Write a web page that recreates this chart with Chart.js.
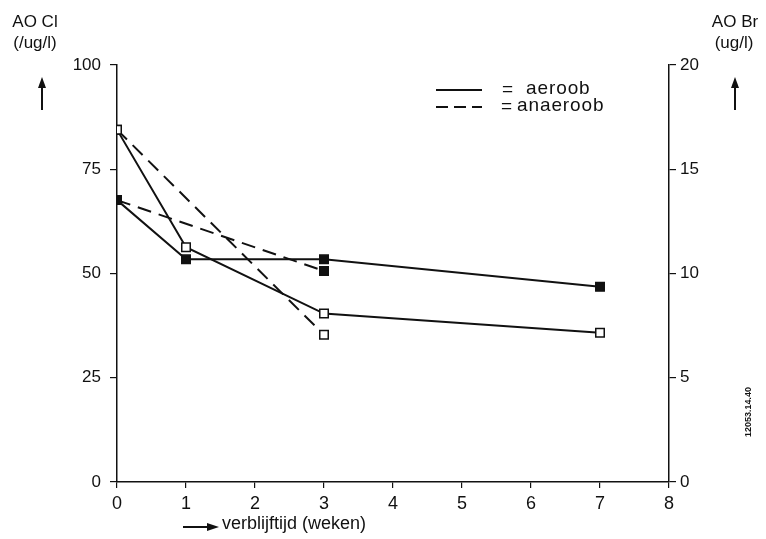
<!DOCTYPE html>
<html>
<head>
<meta charset="utf-8">
<script src="https://cdn.jsdelivr.net/npm/chart.js@4/dist/chart.umd.min.js"></script>
<style>
  html, body { margin: 0; padding: 0; background: #fff; }
  #wrap { width: 766px; height: 539px; position: relative; }
</style>
</head>
<body>
<div id="wrap"><canvas id="aoChart"></canvas></div>
<script>
// weeks of residence time (verblijftijd)
const weeksAeroob = [0, 1, 3, 7];
const weeksAnaeroob = [0, 3];

// AO Cl values (ug/l)
const aeroobOpen = [84.5, 56.3, 40.4, 35.8];
const aeroobFilled = [67.6, 53.4, 53.4, 46.8];
const anaeroobOpen = [84.5, 35.3];
const anaeroobFilled = [67.6, 50.6];

const xTicks = [0, 1, 2, 3, 4, 5, 6, 7, 8];
const leftTicks = [0, 25, 50, 75, 100];
const rightTicks = [0, 5, 10, 15, 20];

const FONT = '"Liberation Sans", Arial, sans-serif';
const INK = '#111';

function pairs(xs, ys) {
    return xs.map((x, i) => ({ x: x, y: ys[i] }));
}

function series(label, xs, ys, dashed, filled) {
    return {
        label: label,
        data: pairs(xs, ys),
        borderColor: INK,
        borderWidth: 2,
        borderDash: dashed ? [14, 8] : [],
        pointStyle: 'rect',
        pointRadius: 6,
        pointBorderWidth: 1.5,
        pointBorderColor: INK,
        pointBackgroundColor: filled ? INK : '#fff',
        tension: 0,
        fill: false,
        order: dashed ? 2 : 1,
    };
}

// Legend, axis titles and arrows drawn on top
const decorations = {
    id: 'decorations',
    afterDraw(chart) {
        const ctx = chart.ctx;
        ctx.save();
        ctx.fillStyle = INK;
        ctx.strokeStyle = INK;

        // legend
        ctx.lineWidth = 2;
        ctx.beginPath();
        ctx.setLineDash([]);
        ctx.moveTo(436, 90);
        ctx.lineTo(482, 90);
        ctx.stroke();
        ctx.beginPath();
        ctx.setLineDash([12, 6]);
        ctx.moveTo(436, 107);
        ctx.lineTo(482, 107);
        ctx.stroke();
        ctx.setLineDash([]);
        ctx.font = '19px ' + FONT;
        ctx.textBaseline = 'middle';
        ctx.textAlign = 'left';
        ctx.fillText('=', 502, 90);
        ctx.fillText('=', 501, 107);
        ctx.letterSpacing = '0.9px';
        ctx.fillText('aeroob', 526, 89);
        ctx.fillText('anaeroob', 517, 106);
        ctx.letterSpacing = '0px';

        // axis titles
        ctx.font = '17px ' + FONT;
        ctx.textAlign = 'center';
        ctx.fillText('AO Cl', 35, 22);
        ctx.fillText('(/ug/l)', 35, 43);
        ctx.fillText('AO Br', 735, 22);
        ctx.fillText('(ug/l)', 734, 43);

        ctx.font = '18px ' + FONT;
        ctx.textAlign = 'left';
        ctx.fillText('verblijftijd (weken)', 222, 524);

        // arrows
        const arrowUp = (x, y0, y1) => {
            ctx.lineWidth = 2;
            ctx.beginPath();
            ctx.moveTo(x, y0);
            ctx.lineTo(x, y1 + 8);
            ctx.stroke();
            ctx.beginPath();
            ctx.moveTo(x, y1);
            ctx.lineTo(x - 4, y1 + 11);
            ctx.lineTo(x + 4, y1 + 11);
            ctx.closePath();
            ctx.fill();
        };
        arrowUp(42, 110, 77);
        arrowUp(735, 110, 77);

        ctx.lineWidth = 2;
        ctx.beginPath();
        ctx.moveTo(183, 527);
        ctx.lineTo(210, 527);
        ctx.stroke();
        ctx.beginPath();
        ctx.moveTo(219, 527);
        ctx.lineTo(207, 523);
        ctx.lineTo(207, 531);
        ctx.closePath();
        ctx.fill();

        // figure code
        ctx.font = 'bold 9px ' + FONT;
        ctx.translate(749, 412);
        ctx.rotate(-Math.PI / 2);
        ctx.textAlign = 'center';
        ctx.fillText('12053.14.40', 0, 0);
        ctx.restore();
    },
};

const tickFont = { family: FONT, size: 17 };

new Chart(document.getElementById('aoChart'), {
    type: 'line',
    data: {
        datasets: [
            series('aeroob open', weeksAeroob, aeroobOpen, false, false),
            series('aeroob filled', weeksAeroob, aeroobFilled, false, true),
            series('anaeroob open', weeksAnaeroob, anaeroobOpen, true, false),
            series('anaeroob filled', weeksAnaeroob, anaeroobFilled, true, true),
        ],
    },
    options: {
        responsive: true,
        maintainAspectRatio: false,
        animation: false,
        layout: { padding: { top: 65, left: 0, right: 0, bottom: 0 } },
        plugins: {
            legend: { display: false },
            tooltip: { enabled: false },
        },
        scales: {
            x: {
                type: 'linear',
                min: 0,
                max: 8,
                afterBuildTicks: (scale) => { scale.ticks = xTicks.map(v => ({ value: v })); },
                afterFit: (scale) => { scale.height = 57; },
                grid: { display: true, drawOnChartArea: false, drawTicks: true, tickLength: 6, color: INK, lineWidth: 1.2 },
                border: { display: true, color: INK, width: 1.5 },
                ticks: { color: INK, font: { family: FONT, size: 18 }, padding: 5, maxRotation: 0 },
            },
            y: {
                position: 'left',
                min: 0,
                max: 100,
                afterBuildTicks: (scale) => { scale.ticks = leftTicks.map(v => ({ value: v })); },
                afterFit: (scale) => { scale.width = 117; },
                grid: { display: true, drawOnChartArea: false, drawTicks: true, tickLength: 7, color: INK, lineWidth: 1.2 },
                border: { display: true, color: INK, width: 1.5 },
                ticks: { color: INK, font: tickFont, padding: 9 },
            },
            y2: {
                position: 'right',
                min: 0,
                max: 20,
                afterBuildTicks: (scale) => { scale.ticks = rightTicks.map(v => ({ value: v })); },
                afterFit: (scale) => { scale.width = 97; },
                grid: { display: true, drawOnChartArea: false, drawTicks: true, tickLength: 7, color: INK, lineWidth: 1.2 },
                border: { display: true, color: INK, width: 1.5 },
                ticks: { color: INK, font: tickFont, padding: 4 },
            },
        },
    },
    plugins: [decorations],
});
</script>
</body>
</html>
